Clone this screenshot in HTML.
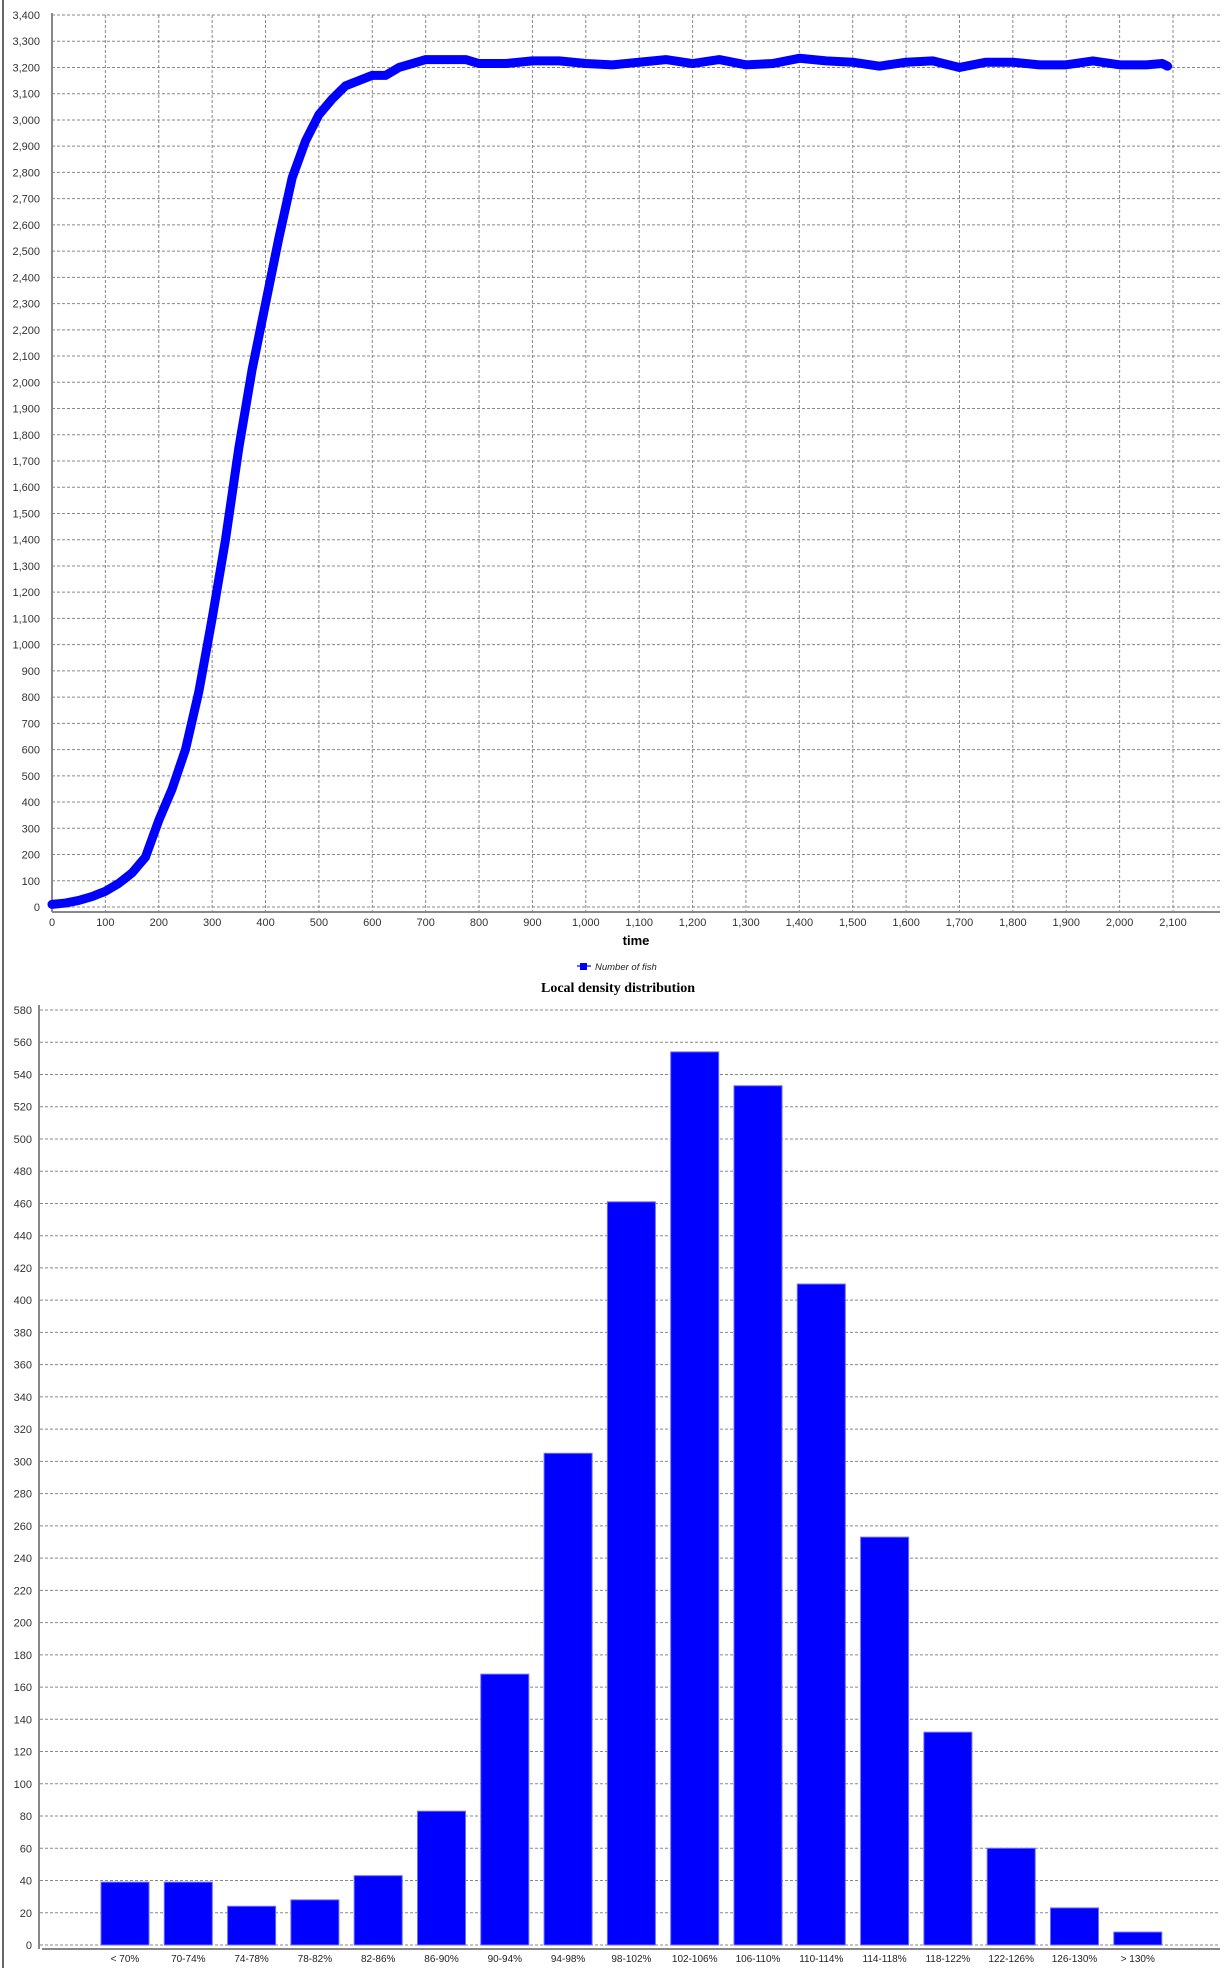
<!DOCTYPE html>
<html><head><meta charset="utf-8"><style>
body{margin:0;background:#fff;}
svg{display:block;font-family:"Liberation Sans",sans-serif;}
</style></head><body>
<svg id="c" width="1231" height="1968">
<line x1="3" y1="0" x2="3" y2="1968" stroke="#666" stroke-width="2"/>
<g id="g1"></g>
<g id="g2"></g>
</svg>
<script>
const lineT=[0,25,50,75,100,125,150,175,200,225,250,275,300,325,350,375,400,425,450,475,500,525,550,575,600,625,650,675,700,750,775,800,850,900,950,1000,1050,1100,1150,1200,1250,1300,1350,1400,1450,1500,1550,1600,1650,1700,1750,1800,1850,1900,1950,2000,2050,2080,2090];
const lineV=[10,15,25,40,60,90,130,190,330,450,600,820,1100,1400,1750,2050,2300,2550,2780,2920,3020,3080,3130,3150,3170,3170,3200,3215,3230,3230,3230,3215,3215,3225,3225,3215,3210,3220,3230,3215,3230,3210,3215,3235,3225,3220,3205,3220,3225,3200,3220,3220,3210,3210,3225,3210,3210,3215,3205];
const xTicks=[0,100,200,300,400,500,600,700,800,900,1000,1100,1200,1300,1400,1500,1600,1700,1800,1900,2000,2100];
const yTicks1=[];for(let v=0;v<=3400;v+=100)yTicks1.push(v);
const cats=["< 70%","70-74%","74-78%","78-82%","82-86%","86-90%","90-94%","94-98%","98-102%","102-106%","106-110%","110-114%","114-118%","118-122%","122-126%","126-130%","> 130%"];
const barV=[39,39,24,28,43,83,168,305,461,554,533,410,253,132,60,23,8];
const yTicks2=[];for(let v=0;v<=580;v+=20)yTicks2.push(v);

const NS="http://www.w3.org/2000/svg";
function mk(p,t,a,txt){const e=document.createElementNS(NS,t);for(const k in a)e.setAttribute(k,a[k]);if(txt!==undefined)e.textContent=txt;p.appendChild(e);return e;}
const fmt=v=>v.toLocaleString('en-US');

// chart 1
const g1=document.getElementById('g1');
const X1=v=>52+v*(1173-52)/2100, Y1=v=>907-v*(907-15)/3400;
yTicks1.forEach(v=>{
 const l=mk(g1,'line',{x1:52,x2:1220,y1:Y1(v),y2:Y1(v),stroke:'#888','stroke-dasharray':'3,2','stroke-width':1});
 
 
 const t=mk(g1,'text',{x:40,y:Y1(v)+4,'text-anchor':'end','font-size':11,fill:'#333'},fmt(v));
 
 
});
xTicks.forEach(v=>{
 const l=mk(g1,'line',{x1:X1(v),x2:X1(v),y1:15,y2:912,stroke:'#888','stroke-dasharray':'3,2','stroke-width':1});
 
 
 const t=mk(g1,'text',{x:X1(v),y:926,'text-anchor':'middle','font-size':11,fill:'#333'},fmt(v));
 
 
});
let ax=mk(g1,'line',{x1:52,x2:52,y1:13,y2:912,stroke:'#888','stroke-width':2});


ax=mk(g1,'line',{x1:52,x2:1220,y1:912,y2:912,stroke:'#888','stroke-width':2});


const pl=mk(g1,'polyline',{points:lineT.map((t,i)=>X1(t)+','+Y1(lineV[i])).join(' '),fill:'none',stroke:'#0000ff','stroke-width':9,'stroke-linejoin':'round','stroke-linecap':'round'});


let tt=mk(g1,'text',{x:636,y:945,'text-anchor':'middle','font-size':13,'font-weight':'bold',fill:'#000'},'time');


const lg=mk(g1,'g',{});


mk(lg,'line',{x1:577,x2:591,y1:966,y2:966,stroke:'#6666ff','stroke-width':2});
mk(lg,'rect',{x:580,y:963,width:7,height:7,fill:'#0000ff'});
mk(lg,'text',{x:595,y:970,'font-size':9.5,'font-style':'italic',fill:'#222'},'Number of fish');
tt=mk(g1,'text',{x:618,y:992,'text-anchor':'middle','font-size':14,'font-weight':'bold','font-family':'Liberation Serif, serif',fill:'#000'},'Local density distribution');



// chart 2
const g2=document.getElementById('g2');
const Y2=v=>1945-v*(1945-1010)/580;
const pitch=63.3, bx=i=>101+i*pitch, bw=48;
yTicks2.forEach(v=>{
 const l=mk(g2,'line',{x1:40,x2:1220,y1:Y2(v),y2:Y2(v),stroke:'#888','stroke-dasharray':'3,2','stroke-width':1});
 
 
 const t=mk(g2,'text',{x:32,y:Y2(v)+4,'text-anchor':'end','font-size':11,fill:'#333'},v);
 
 
});
ax=mk(g2,'line',{x1:39,x2:39,y1:1005,y2:1949,stroke:'#888','stroke-width':2});


ax=mk(g2,'line',{x1:42,x2:1220,y1:1949,y2:1949,stroke:'#888','stroke-width':2});


barV.forEach((v,i)=>{
 const r=mk(g2,'rect',{x:bx(i),y:Y2(v),width:bw,height:Y2(0)-Y2(v),fill:'#0000ff',stroke:'#6b6bff','stroke-width':1});
 
 
 const t=mk(g2,'text',{x:bx(i)+bw/2,y:1962,'text-anchor':'middle','font-size':10,fill:'#222'},cats[i]);
 
 
});
</script>
</body></html>
